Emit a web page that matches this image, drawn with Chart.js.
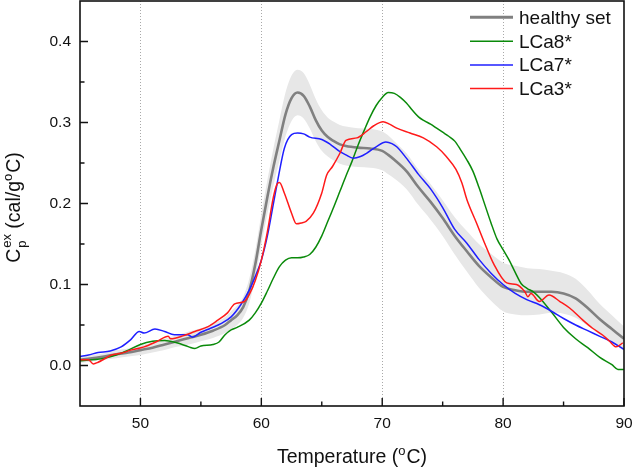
<!DOCTYPE html>
<html>
<head>
<meta charset="utf-8">
<script src="https://cdn.jsdelivr.net/npm/chart.js@4.4.1/dist/chart.umd.min.js"></script>
<style>
  html, body { margin: 0; padding: 0; background: #ffffff; }
  #wrap { width: 633px; height: 467px; position: relative; }
</style>
</head>
<body>
<div id="wrap"><canvas id="c" width="633" height="467"></canvas></div>
<script>
// ---------------- data ----------------
const seriesLabels = ['healthy set', 'LCa8*', 'LCa7*', 'LCa3*'];

const tempHealthy = [45,46,47,48,49,50,51,52,53,54,55,56,57,57.5,58,58.5,59,59.5,60,60.5,61,61.5,62,62.5,63,63.5,64,64.5,65,65.5,66,66.5,67,68,69,70,70.5,71,72,73,74,75,76,77,78,79,80,81,82,83,84,85,86,87,88,89,90];
const cpHealthy = [0.007,0.009,0.011,0.014,0.016,0.019,0.022,0.026,0.030,0.034,0.038,0.043,0.050,0.056,0.062,0.072,0.092,0.125,0.168,0.208,0.245,0.278,0.310,0.330,0.337,0.333,0.320,0.303,0.290,0.282,0.277,0.273,0.271,0.269,0.268,0.265,0.260,0.254,0.240,0.220,0.202,0.182,0.160,0.141,0.123,0.109,0.097,0.093,0.091,0.091,0.091,0.089,0.083,0.071,0.057,0.045,0.033];
const sdHealthy = [0.004,0.004,0.004,0.005,0.005,0.006,0.006,0.007,0.007,0.008,0.008,0.009,0.010,0.011,0.012,0.013,0.015,0.017,0.019,0.021,0.023,0.025,0.027,0.028,0.028,0.028,0.027,0.026,0.025,0.024,0.024,0.024,0.024,0.024,0.024,0.024,0.024,0.023,0.022,0.022,0.022,0.022,0.023,0.025,0.027,0.029,0.030,0.030,0.029,0.028,0.026,0.025,0.024,0.022,0.019,0.017,0.015];

const tempLCa8 = [45,46,47,48,49,50,51,52,53,54,54.5,55,56,56.5,57,57.5,58,59,59.5,60,60.5,61,61.5,62,62.5,63,63.5,64,64.5,65,65.5,66,66.5,67,67.5,68,68.5,69,69.5,70,70.5,71,71.5,72,72.5,73,73.5,74,74.5,75,75.5,76,76.5,77,77.5,78,78.5,79,79.5,80,80.5,81,81.5,82,82.5,83,84,85,86,87,88,89,89.5,90];
const cpLCa8 = [0.006,0.007,0.009,0.013,0.019,0.026,0.030,0.031,0.028,0.023,0.021,0.024,0.026,0.029,0.038,0.044,0.047,0.056,0.065,0.077,0.092,0.108,0.122,0.130,0.133,0.133,0.134,0.137,0.146,0.160,0.178,0.196,0.215,0.234,0.252,0.272,0.290,0.307,0.321,0.331,0.337,0.336,0.331,0.324,0.315,0.307,0.302,0.298,0.293,0.288,0.283,0.277,0.266,0.254,0.240,0.220,0.198,0.176,0.156,0.143,0.130,0.115,0.101,0.095,0.091,0.084,0.066,0.047,0.033,0.022,0.010,0.001,-0.005,-0.005];

const tempLCa7 = [45,45.7,46.5,47.5,48.4,49.2,49.9,50.3,51.2,52,52.8,53.9,54.3,55,55.8,56.7,57.5,58.3,59,59.5,60,60.5,61,61.4,61.9,62.5,63,63.5,64,65,65.7,66.5,67,67.6,68.2,68.7,69.5,70.3,70.8,71.2,72,73,74,75,76,77,78,79,80,81,82,83,84,85,86,87,88,89,90];
const cpLCa7 = [0.011,0.013,0.016,0.018,0.023,0.032,0.042,0.040,0.045,0.042,0.038,0.038,0.035,0.041,0.046,0.052,0.060,0.075,0.093,0.110,0.130,0.160,0.200,0.232,0.268,0.285,0.287,0.286,0.282,0.279,0.273,0.264,0.260,0.256,0.258,0.262,0.270,0.276,0.274,0.270,0.256,0.236,0.218,0.195,0.168,0.151,0.131,0.114,0.100,0.089,0.081,0.075,0.067,0.058,0.050,0.043,0.036,0.029,0.020];

const tempLCa3 = [45,45.7,46.1,46.5,47,47.6,48.4,49.2,50.3,51.4,52.3,52.5,53.6,54.5,55.6,56.4,57.2,57.8,58.6,59.05,59.5,60,60.5,61,61.3,61.5,61.9,62.5,62.9,63.3,63.7,64.3,65,65.4,65.9,66.5,67,67.9,68.7,69.3,70.07,70.6,71.2,72.3,73.4,74.5,75.3,76.1,76.6,77,77.8,78.5,79.2,80.3,81.1,81.8,82.05,82.3,83,83.8,84.7,85.5,86.6,87.4,88.2,88.8,89.35,89.9];
const cpLCa3 = [0.007,0.007,0.002,0.004,0.008,0.013,0.015,0.019,0.023,0.030,0.036,0.033,0.037,0.042,0.048,0.056,0.065,0.076,0.079,0.089,0.105,0.130,0.165,0.208,0.224,0.226,0.213,0.188,0.175,0.176,0.178,0.188,0.213,0.235,0.246,0.262,0.278,0.281,0.289,0.296,0.301,0.298,0.293,0.287,0.281,0.270,0.258,0.242,0.225,0.205,0.176,0.150,0.126,0.102,0.100,0.091,0.085,0.089,0.079,0.087,0.079,0.071,0.056,0.046,0.038,0.030,0.023,0.028];

const xMajorTicks = [50, 60, 70, 80, 90];
const xMinorTicks = [55, 65, 75, 85];
const yMajorTicks = [0.0, 0.1, 0.2, 0.3, 0.4];
const yMinorTicks = [0.05, 0.15, 0.25, 0.35];

const xTitleMain = 'Temperature (', xTitleSup = 'o', xTitleEnd = 'C)';

// ---------------- styles ----------------
const FONT = "'Liberation Sans', Arial, Helvetica, sans-serif";
const colors = ['#808080', '#0a8a0a', '#1f1fff', '#ff1a1a'];
const widths = [2.6, 1.5, 1.5, 1.5];

const pts = (xs, ys) => xs.map((x, i) => ({ x: x, y: ys[i] }));

const lineDs = (label, xs, ys, i, order) => ({
  label: label,
  data: pts(xs, ys),
  borderColor: colors[i],
  borderWidth: widths[i],
  pointRadius: 0,
  fill: false,
  cubicInterpolationMode: 'monotone',
  order: order
});

const datasets = [
  lineDs(seriesLabels[3], tempLCa3, cpLCa3, 3, 0),
  lineDs(seriesLabels[2], tempLCa7, cpLCa7, 2, 1),
  lineDs(seriesLabels[1], tempLCa8, cpLCa8, 1, 2),
  lineDs(seriesLabels[0], tempHealthy, cpHealthy, 0, 3),
  {
    label: 'band-upper',
    data: pts(tempHealthy, cpHealthy.map((v, i) => v + sdHealthy[i])),
    borderColor: 'rgba(0,0,0,0)', borderWidth: 0, pointRadius: 0,
    backgroundColor: '#e7e7e7', fill: '+1',
    cubicInterpolationMode: 'monotone', order: 10
  },
  {
    label: 'band-lower',
    data: pts(tempHealthy, cpHealthy.map((v, i) => v - sdHealthy[i])),
    borderColor: 'rgba(0,0,0,0)', borderWidth: 0, pointRadius: 0,
    fill: false, cubicInterpolationMode: 'monotone', order: 11
  }
];

// ---------------- decorations plugin ----------------
const deco = {
  id: 'deco',
  afterDraw(chart) {
    const ctx = chart.ctx;
    const a = chart.chartArea;
    const xs = chart.scales.x, ys = chart.scales.y;
    ctx.save();
    // frame
    ctx.strokeStyle = '#111';
    ctx.lineWidth = 1.6;
    ctx.strokeRect(a.left, a.top, a.right - a.left, a.bottom - a.top);
    // inward ticks
    ctx.lineWidth = 1.4;
    ctx.beginPath();
    xMajorTicks.forEach(v => { const p = xs.getPixelForValue(v); ctx.moveTo(p, a.bottom); ctx.lineTo(p, a.bottom - 8); });
    xMinorTicks.forEach(v => { const p = xs.getPixelForValue(v); ctx.moveTo(p, a.bottom); ctx.lineTo(p, a.bottom - 4.5); });
    yMajorTicks.forEach(v => { const p = ys.getPixelForValue(v); ctx.moveTo(a.left, p); ctx.lineTo(a.left + 8, p); });
    yMinorTicks.forEach(v => { const p = ys.getPixelForValue(v); ctx.moveTo(a.left, p); ctx.lineTo(a.left + 4.5, p); });
    ctx.stroke();

    ctx.fillStyle = '#111';
    ctx.textBaseline = 'alphabetic';
    ctx.textAlign = 'left';
    const big = '19.5px ' + FONT, small = '13px ' + FONT;

    // x-axis title
    ctx.font = big;
    const w1 = ctx.measureText(xTitleMain).width;
    const w3 = ctx.measureText(xTitleEnd).width;
    ctx.font = small;
    const w2 = ctx.measureText(xTitleSup).width + 1;
    const total = w1 + w2 + w3;
    const cx = (a.left + a.right) / 2;
    let x0 = cx - total / 2;
    const by = 462.5;
    ctx.font = big; ctx.fillText(xTitleMain, x0, by);
    ctx.font = small; ctx.fillText(xTitleSup, x0 + w1, by - 8);
    ctx.font = big; ctx.fillText(xTitleEnd, x0 + w1 + w2, by);

    // y-axis title (rotated)
    ctx.save();
    ctx.translate(19.5, (a.top + a.bottom) / 2 + 4);
    ctx.rotate(-Math.PI / 2);
    ctx.font = big;
    const wc = ctx.measureText('C').width;
    const wmid = ctx.measureText(' (cal/g').width;
    const wend = ctx.measureText('C)').width;
    ctx.font = small;
    const wex = ctx.measureText('ex').width;
    const wo = ctx.measureText('o').width + 1;
    const tot = wc + wex + 1 + wmid + wo + wend;
    let x = -tot / 2;
    ctx.font = big; ctx.fillText('C', x, 0); x += wc;
    ctx.font = small; ctx.fillText('p', x + 1, 6); ctx.fillText('ex', x + 1, -9); x += wex + 1;
    ctx.font = big; ctx.fillText(' (cal/g', x, 0); x += wmid;
    ctx.font = small; ctx.fillText('o', x, -8); x += wo;
    ctx.font = big; ctx.fillText('C)', x, 0);
    ctx.restore();

    // legend
    const rowsY = [17.3, 41.3, 65, 88.6];
    ctx.textBaseline = 'middle';
    ctx.font = '19px ' + FONT;
    seriesLabels.forEach((lab, i) => {
      ctx.strokeStyle = colors[i];
      ctx.lineWidth = i === 0 ? 3 : 1.5;
      ctx.beginPath();
      ctx.moveTo(470, rowsY[i]);
      ctx.lineTo(513, rowsY[i]);
      ctx.stroke();
      ctx.fillStyle = '#111';
      ctx.fillText(lab, 519, rowsY[i] + 1);
    });
    ctx.restore();
  }
};

new Chart(document.getElementById('c'), {
  type: 'line',
  data: { datasets: datasets },
  plugins: [deco],
  options: {
    responsive: false,
    devicePixelRatio: 1,
    animation: false,
    layout: { padding: { left: 0, right: 9, top: 1, bottom: 0 } },
    plugins: { legend: { display: false }, tooltip: { enabled: false } },
    scales: {
      x: {
        type: 'linear', min: 45, max: 90,
        afterBuildTicks: s => { s.ticks = xMajorTicks.map(v => ({ value: v })); },
        afterFit: s => { s.height = 61; s.paddingLeft = 0; s.paddingRight = 0; },
        ticks: { font: { family: FONT, size: 15.5 }, color: '#111', padding: 8, maxRotation: 0, autoSkip: false },
        grid: {
          drawTicks: false,
          lineWidth: 1,
          color: c => (c.tick && c.tick.value > 45 && c.tick.value < 90) ? '#a9a9a9' : 'rgba(0,0,0,0)'
        },
        border: { display: false, dash: [1, 2] }
      },
      y: {
        type: 'linear', min: -0.05, max: 0.45,
        afterBuildTicks: s => { s.ticks = yMajorTicks.map(v => ({ value: v })); },
        afterFit: s => { s.width = 80; s.paddingTop = 0; s.paddingBottom = 0; },
        ticks: { font: { family: FONT, size: 15.5 }, color: '#111', padding: 9, callback: v => v.toFixed(1) },
        grid: { display: false, drawTicks: false },
        border: { display: false }
      }
    }
  }
});
</script>
</body>
</html>
